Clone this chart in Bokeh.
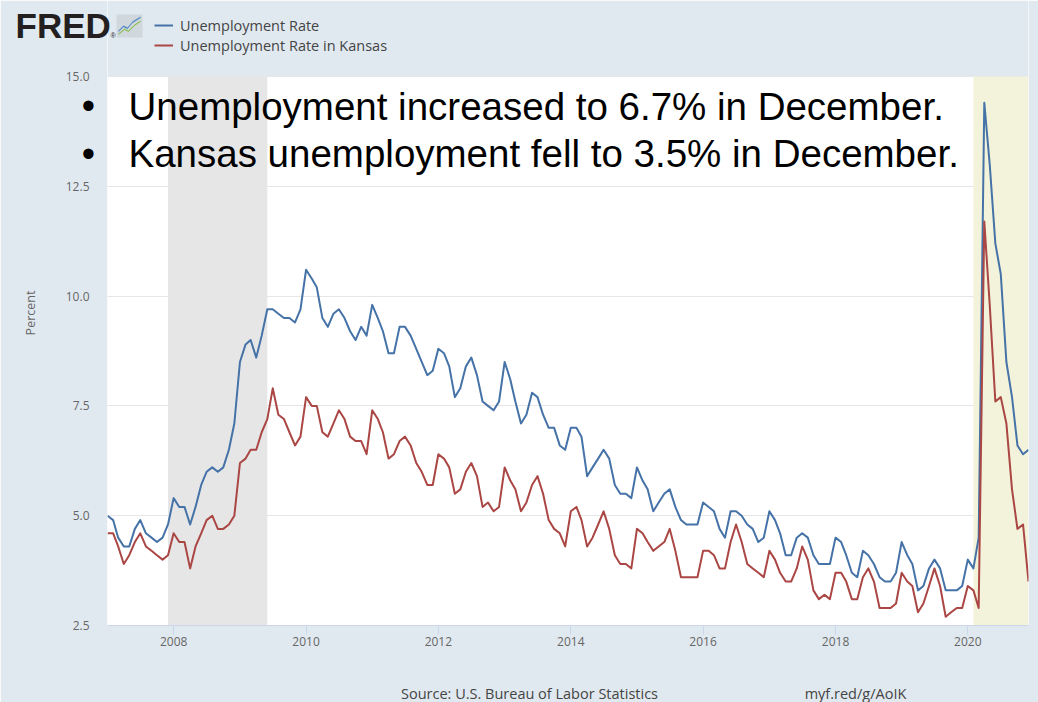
import pandas as pd
from bokeh.plotting import figure
from bokeh.models import (Range1d, FixedTicker, DatetimeTickFormatter, NumeralTickFormatter,
                          BoxAnnotation, Label, Legend, LegendItem, PolyAnnotation,
                          ColumnDataSource)
from bokeh.core.properties import value
from bokeh.embed import file_html
from bokeh.resources import INLINE

# ---------------- data ----------------
months = pd.date_range("2007-01-01", "2020-12-01", freq="MS")

us_rate = [
    5.0, 4.9, 4.5, 4.3, 4.3, 4.7, 4.9, 4.6, 4.5, 4.4, 4.5, 4.8,      # 2007
    5.4, 5.2, 5.2, 4.8, 5.2, 5.7, 6.0, 6.1, 6.0, 6.1, 6.5, 7.1,      # 2008
    8.5, 8.9, 9.0, 8.6, 9.1, 9.7, 9.7, 9.6, 9.5, 9.5, 9.4, 9.7,      # 2009
    10.6, 10.4, 10.2, 9.5, 9.3, 9.6, 9.7, 9.5, 9.2, 9.0, 9.3, 9.1,   # 2010
    9.8, 9.5, 9.2, 8.7, 8.7, 9.3, 9.3, 9.1, 8.8, 8.5, 8.2, 8.3,      # 2011
    8.8, 8.7, 8.4, 7.7, 7.9, 8.4, 8.6, 8.2, 7.6, 7.5, 7.4, 7.6,      # 2012
    8.5, 8.1, 7.6, 7.1, 7.3, 7.8, 7.7, 7.3, 7.0, 7.0, 6.6, 6.5,      # 2013
    7.0, 7.0, 6.8, 5.9, 6.1, 6.3, 6.5, 6.3, 5.7, 5.5, 5.5, 5.4,      # 2014
    6.1, 5.8, 5.6, 5.1, 5.3, 5.5, 5.6, 5.2, 4.9, 4.8, 4.8, 4.8,      # 2015
    5.3, 5.2, 5.1, 4.7, 4.5, 5.1, 5.1, 5.0, 4.8, 4.7, 4.4, 4.5,      # 2016
    5.1, 4.9, 4.6, 4.1, 4.1, 4.5, 4.6, 4.5, 4.1, 3.9, 3.9, 3.9,      # 2017
    4.5, 4.4, 4.1, 3.7, 3.6, 4.2, 4.1, 3.9, 3.6, 3.5, 3.5, 3.7,      # 2018
    4.4, 4.1, 3.9, 3.3, 3.4, 3.8, 4.0, 3.8, 3.3, 3.3, 3.3, 3.4,      # 2019
    4.0, 3.8, 4.5, 14.4, 13.0, 11.2, 10.5, 8.5, 7.7, 6.6, 6.4, 6.5,  # 2020
]

ks_rate = [
    4.6, 4.6, 4.3, 3.9, 4.1, 4.4, 4.6, 4.3, 4.2, 4.1, 4.0, 4.1,      # 2007
    4.6, 4.4, 4.4, 3.8, 4.3, 4.6, 4.9, 5.0, 4.7, 4.7, 4.8, 5.0,      # 2008
    6.2, 6.3, 6.5, 6.5, 6.9, 7.2, 7.9, 7.3, 7.2, 6.9, 6.6, 6.8,      # 2009
    7.7, 7.5, 7.5, 6.9, 6.8, 7.1, 7.4, 7.2, 6.8, 6.7, 6.7, 6.4,      # 2010
    7.4, 7.2, 6.9, 6.3, 6.4, 6.7, 6.8, 6.6, 6.2, 6.0, 5.7, 5.7,      # 2011
    6.4, 6.3, 6.1, 5.5, 5.6, 6.0, 6.2, 5.9, 5.2, 5.3, 5.1, 5.2,      # 2012
    6.1, 5.8, 5.6, 5.1, 5.3, 5.7, 5.9, 5.5, 4.9, 4.7, 4.6, 4.3,      # 2013
    5.1, 5.2, 4.9, 4.3, 4.5, 4.8, 5.1, 4.7, 4.1, 3.9, 3.9, 3.8,      # 2014
    4.7, 4.6, 4.4, 4.2, 4.3, 4.4, 4.7, 4.2, 3.6, 3.6, 3.6, 3.6,      # 2015
    4.2, 4.2, 4.1, 3.8, 3.8, 4.4, 4.8, 4.4, 3.9, 3.8, 3.7, 3.6,      # 2016
    4.2, 4.0, 3.7, 3.5, 3.5, 3.8, 4.3, 4.0, 3.3, 3.1, 3.2, 3.1,      # 2017
    3.7, 3.7, 3.5, 3.1, 3.1, 3.6, 3.8, 3.5, 2.9, 2.9, 2.9, 3.0,      # 2018
    3.7, 3.5, 3.4, 2.8, 3.0, 3.4, 3.8, 3.4, 2.7, 2.8, 2.9, 2.9,      # 2019
    3.4, 3.3, 2.9, 11.7, 9.8, 7.6, 7.7, 7.1, 5.6, 4.7, 4.8, 3.5,     # 2020
]

series_names = ["Unemployment Rate", "Unemployment Rate in Kansas"]
series_colors = ["#4572a7", "#aa4643"]
recessions = [("2007-12-01", "2009-06-01"), ("2020-02-01", "2020-12-01")]
recession_colors = ["#e6e6e6", "#f3f3db"]
x_tick_years = [2008, 2010, 2012, 2014, 2016, 2018, 2020]
y_ticks = [2.5, 5.0, 7.5, 10.0, 12.5, 15.0]
bullet_lines = ["Unemployment increased to 6.7% in December.",
                "Kansas unemployment fell to 3.5% in December."]
source_text = "Source: U.S. Bureau of Labor Statistics"
short_url = "myf.red/g/AoIK"


def ms(d):
    return pd.Timestamp(d).timestamp() * 1000.0


# ---------------- geometry (pixels on the 1038x702 canvas) ----------------
W, H = 1038, 702
FRAME_L, FRAME_R, FRAME_B = 107, 1028, 625
DATA_TOP_PX = 76                       # where y = 15.0 sits
Y_MIN, Y_MAX = y_ticks[0], y_ticks[-1]
PX_PER_UNIT = (FRAME_B - DATA_TOP_PX) / (Y_MAX - Y_MIN)
Y_TOP = Y_MAX + DATA_TOP_PX / PX_PER_UNIT   # frame reaches the canvas top
X0, X1 = ms(months[0]), ms(months[-1])
MS_PER_PX = (X1 - X0) / (FRAME_R - FRAME_L)


def dx(px):
    return X0 + (px - FRAME_L) * MS_PER_PX


def dy(py):
    return Y_MIN + (FRAME_B - py) / PX_PER_UNIT


def sx(px):
    return px - FRAME_L


def sy(py):
    return FRAME_B - py


# ---------------- figure ----------------
BG = "#e1e9f0"
p = figure(width=W, height=H, x_axis_type="datetime", title=None,
           output_backend="svg", toolbar_location=None,
           x_range=Range1d(X0, X1), y_range=Range1d(Y_MIN, Y_TOP),
           min_border_left=FRAME_L, min_border_right=W - FRAME_R,
           min_border_top=0, min_border_bottom=H - FRAME_B,
           background_fill_color="white", border_fill_color=BG,
           outline_line_color=None)

# header strip above the data area takes the page colour
p.add_layout(BoxAnnotation(bottom=Y_MAX, fill_color=BG, fill_alpha=1.0,
                           line_color=None, level="underlay"))

# recession shading
for (a, b), c in zip(recessions, recession_colors):
    p.add_layout(BoxAnnotation(left=ms(a), right=ms(b), top=Y_MAX, fill_color=c,
                               fill_alpha=1.0, line_color=None, level="underlay"))

src = ColumnDataSource(dict(date=months, us=us_rate, ks=ks_rate))
r1 = p.line("date", "us", source=src, line_color=series_colors[0], line_width=2,
            line_join="round")
r2 = p.line("date", "ks", source=src, line_color=series_colors[1], line_width=2,
            line_join="round")

# grid
p.xgrid.grid_line_color = None
p.ygrid.grid_line_color = "#e6e6e6"
p.ygrid.level = "image"
p.ygrid.ticker = FixedTicker(ticks=y_ticks)

# axes
TICK_FONT = "Open Sans"
xa = p.xaxis[0]
xa.ticker = FixedTicker(ticks=[ms(f"{y}-01-01") for y in x_tick_years])
xa.formatter = DatetimeTickFormatter(years="%Y", months="%Y", days="%Y",
                                     hours="%Y", minutes="%Y")
xa.axis_line_color = "#ccd6eb"
xa.major_tick_line_color = "#ccd6eb"
xa.major_tick_out = 9
xa.major_tick_in = 0
xa.minor_tick_line_color = None
xa.minor_tick_out = 0
xa.major_label_standoff = 2
xa.major_label_text_font = TICK_FONT
xa.major_label_text_font_size = "12px"
xa.major_label_text_color = "#666666"

ya = p.yaxis[0]
ya.ticker = FixedTicker(ticks=y_ticks)
ya.formatter = NumeralTickFormatter(format="0.0")
ya.axis_line_color = None
ya.major_tick_line_color = None
ya.minor_tick_line_color = None
ya.major_tick_out = 0
ya.major_tick_in = 0
ya.minor_tick_out = 0
ya.major_label_standoff = 18
ya.major_label_text_font = TICK_FONT
ya.major_label_text_font_size = "12px"
ya.major_label_text_color = "#666666"
ya.axis_label = "Percent"
ya.axis_label_standoff = 24
ya.axis_label_text_font = TICK_FONT
ya.axis_label_text_font_style = "normal"
ya.axis_label_text_font_size = "12.5px"
ya.axis_label_text_color = "#666666"

# ---------------- header: legend + logo icon (inside the frame) ----------------
legend = Legend(items=[LegendItem(label=series_names[0], renderers=[r1]),
                       LegendItem(label=series_names[1], renderers=[r2])],
                location=(sx(154), sy(55)), orientation="vertical",
                background_fill_alpha=0.0, border_line_color=None,
                padding=0, margin=0, spacing=0,
                label_height=20, glyph_height=20, glyph_width=19, label_standoff=7,
                label_text_font="Open Sans", label_text_font_size="14.5px",
                label_text_color="#444444")
p.add_layout(legend)

p.add_layout(PolyAnnotation(xs=[sx(116), sx(142), sx(142), sx(116)],
                            ys=[sy(37), sy(37), sy(14), sy(14)],
                            xs_units="screen", ys_units="screen",
                            fill_color="#d0d8de", fill_alpha=1.0, line_color=None))
for pts, col in (([(118, 33), (124, 28), (128, 30), (134, 24), (140, 20)], "#8dbf5a"),
                 ([(118, 30), (123, 25), (127, 27), (132, 21), (140, 16)], "#4f86c6")):
    xs = [sx(q[0]) for q in pts] + [sx(q[0]) for q in reversed(pts)]
    ys = [sy(q[1]) for q in pts] + [sy(q[1]) - 1.6 for q in reversed(pts)]
    p.add_layout(PolyAnnotation(xs=xs, ys=ys, xs_units="screen", ys_units="screen",
                                fill_color=col, fill_alpha=1.0, line_color=None))

# ---------------- texts outside the frame: overlay text glyphs ----------------
p.text(x=[dx(15)], y=[dy(24.5)], text=["FRED"], level="overlay",
       text_font=value("Liberation Sans"), text_font_style=value("bold"),
       text_font_size=value("35px"), text_color="#231f20",
       text_align="left", text_baseline="alphabetic")
p.text(x=[dx(110)], y=[dy(35)], text=["\u00ae"], level="overlay",
       text_font=value("Liberation Sans"), text_font_size=value("7px"),
       text_color="#231f20", text_align="left", text_baseline="alphabetic")

p.text(x=[dx(88), dx(88)], y=[dy(105), dy(153)], text=["\u2022", "\u2022"], level="overlay",
       text_font=value("Liberation Sans"), text_font_size=value("38px"),
       text_color="#000000", text_align="center", text_baseline="alphabetic")

p.text(x=[dx(529), dx(855)], y=[dy(693), dy(693)], text=[source_text, short_url],
       level="overlay", text_font=value("Open Sans"), text_font_size=value("14.5px"),
       text_color="#444444", text_align="center", text_baseline="alphabetic")

# ---------------- bullet text (inside the frame) ----------------
for txt, base in zip(bullet_lines, (120, 167)):
    p.add_layout(Label(x=sx(128), y=sy(base - 14), x_units="screen", y_units="screen",
                       text=txt, text_align="left", text_baseline="alphabetic",
                       text_font="Liberation Sans", text_font_size="38.5px",
                       text_color="#000000"))

open("out.html", "w").write(file_html(p, INLINE))
